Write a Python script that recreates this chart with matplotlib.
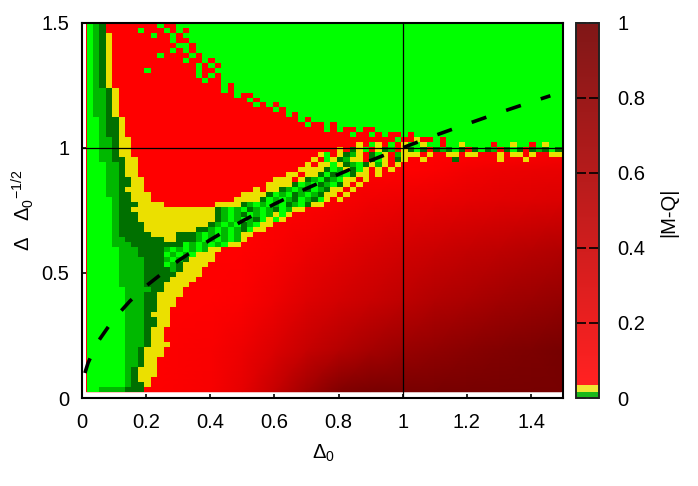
import re
import numpy as np
import matplotlib
matplotlib.use("Agg")
import matplotlib.pyplot as plt
from matplotlib.colors import LinearSegmentedColormap, Normalize
from matplotlib.cm import ScalarMappable

plt.rcParams['font.family'] = ['Liberation Sans', 'DejaVu Sans']
plt.rcParams['mathtext.fontset'] = 'custom'
plt.rcParams['mathtext.rm'] = 'Liberation Sans'
plt.rcParams['mathtext.it'] = 'Liberation Sans'
plt.rcParams['mathtext.bf'] = 'Liberation Sans'

# |M-Q|. Cell map: each row runs from the top (1.49) to the bottom,
# written as a letter with an optional repeat count. g, m, d, y are the green and yellow
# cells; r is red; the red cells show the smooth red field below through them.
cell_values = {'g': 0.003, 'm': 0.008, 'd': 0.013, 'y': 0.025, 'r': 0.05}
rows = [
    "gmdr8grrg", "gmdr5gr3grgr", "gmdyr6grrgrg", "gmdyr9grr", "gmdyr10ggr",
    "gmdyr9grgr", "gmdyr7gr3rgr", "gmdyr11grrgr", "gmdyr11rrgrgr", "gmdyr5gr7grr",
    "gmdyr13grgr", "gmdyr14grr", "gmdyr15rrgr", "gmmdyr15rgr", "gmmdyr17rgrr",
    "gmmdyr20gr", "gmmdyr21grgr", "gmmdyr23rgr", "gmmdyr24rrgr", "ggmddyr27gr",
    "ggmddyr28grrgr", "ggmddyr30rgrgrrgrr", "ggmddyr35grrgrgrrgr", "ggmmdyyr40rgrryrrgrg",
    "ggmmdyyr35yrgyrgryggyggrggyggggrggyggrgyg",
    "ggmmdyyr32yrdygrydmrydgdrdmdgdrdgdmrdgdrdmdgd",
    "ggmmdyyr29ygrydmyrdgyrmyyyryrryyryyrrryryyryrryy",
    "ggmmddyyr27yrgydmyyrdgyrdyr2yr4dr6yr3yr5",
    "gggmmdyyr26yryygydmgdymyryrr24",
    "gggmmdyyr24ryyyydgmydgyryryrr25",
    "gggmmdyyr23yyryydgdmgdyyryr28",
    "gggmmddyyr20yyyrydmgdmgyyryr30",
    "gggmmddyyr19yyyydgmgdmgdyryr31",
    "gggmmdyyyr17yryydmgmdgmdyyryr32",
    "gggmmddyyyr14yyyydgmgdmgmdyyryr33",
    "ggggmddyyyr12ryyyydgmgmdgmdgyryr34",
    "ggggmdddyyyyr8yyyydmgmgmgdmgdyyrr36",
    "ggggmddy12ydmgmgdmgmdgmyyr40",
    "ggggmdddy12dmgmdgmgmygyr42",
    "ggggmdddy12dmgmgmdgygyr43",
    "ggggmddddy10dmgmgdmgyyr45",
    "ggggmddddy8ddmgmgmdgyyr46",
    "ggggmdddddy4dddmgmgmgmyyr48",
    "ggggmmddddddyydddmgmgmgmyr49",
    "ggggmmmddddddddgmgmgmgyyr50",
    "gggggmmmddddmgmgmgmyyr53",
    "gggggmmmddddgmgmgyyyr54",
    "gggggmmmmdddmgmdyyyyr54",
    "gggggmmmmdddgmdyyyyr55",
    "gggggmmmmddddmdyyyr56",
    "gggggmmmmdddddyyyyr56",
    "gggggmmmmddddyyyyr57",
    "gggggmmmmdddyyyyr58",
    "ggggggmmmmddyyyr59",
    "ggggggmmmddyyyyr59",
    "ggggggmmmddyyyr60",
    "ggggggmmmddyyyr60",
    "ggggggmmmddyyr61",
    "ggggggmmmdyyyr61",
    "ggggggmmmddyyr61",
    "ggggggmmmddyyr61",
    "ggggggmmmdyyr62",
    "ggggggmmmdyyr62",
    "ggggggmmmdyyr62",
    "ggggggmmmdyyyr61",
    "ggggggmmdyyyr62",
    "ggggggmmdyyyr62",
    "ggggggmmdyyr63",
    "ggggggmmdyyr63",
    "ggggggmdyyyr63",
    "ggggggmdyyyr63",
    "ggggggmdyyr64",
    "ggggggmddyr64",
    "ggmmmmdddr65",
]
n_cols = 74
x_start, x_stop = 0.015, 1.495
y_start, y_stop = 0.025, 1.5

# Smooth red field: |M-Q| at these nodes, read from the shade of the red area.
field_x = [0.015, 0.2, 0.4, 0.5, 0.6, 0.7, 0.8, 0.9, 1.0, 1.1, 1.2, 1.3, 1.4, 1.495]
field_y = [0.025, 0.19, 0.39, 0.59, 0.79, 0.91, 0.95, 1.0, 1.5]
field_v = [
    [.05, .05, .10, .22, .44, .70, .92, .98, .98, .98, .99, .99, .99, .99],
    [.05, .05, .09, .175, .30, .44, .56, .67, .75, .81, .865, .91, .945, .985],
    [.05, .05, .05, .08, .17, .28, .355, .42, .50, .58, .63, .69, .74, .785],
    [.05, .05, .05, .05, .09, .165, .23, .30, .36, .41, .46, .50, .55, .59],
    [.05, .05, .05, .05, .05, .05, .09, .15, .18, .20, .23, .26, .28, .30],
    [.05, .05, .05, .05, .05, .05, .05, .05, .05, .08, .13, .17, .19, .20],
    [.05, .05, .05, .05, .05, .05, .05, .05, .05, .06, .08, .10, .12, .14],
    [.05, .05, .05, .05, .05, .05, .05, .05, .05, .05, .05, .05, .05, .05],
    [.05, .05, .05, .05, .05, .05, .05, .05, .05, .05, .05, .05, .05, .05],
]

line_x = [0.01, 0.02, 0.05, 0.1, 0.15, 0.2, 0.3, 0.4, 0.5, 0.6, 0.7, 0.8, 0.9, 1.0, 1.1, 1.2, 1.3, 1.4, 1.46]
line_y = [0.1, 0.141, 0.224, 0.316, 0.387, 0.447, 0.548, 0.632, 0.707, 0.775, 0.837, 0.894, 0.949, 1.0, 1.049, 1.095, 1.14, 1.183, 1.208]

x_ticks = [0, 0.2, 0.4, 0.6, 0.8, 1.0, 1.2, 1.4]
x_labels = ['0', '0.2', '0.4', '0.6', '0.8', '1', '1.2', '1.4']
y_ticks = [0, 0.5, 1.0, 1.5]
y_labels = ['0', '0.5', '1', '1.5']
c_ticks = [0, 0.2, 0.4, 0.6, 0.8, 1.0]
c_labels = ['0', '0.2', '0.4', '0.6', '0.8', '1']


def expand(row, index):
    text = ''.join(ch * int(n or 1) for ch, n in re.findall(r'([a-z])(\d*)', row))
    pad = 'r' if index >= 28 else 'g'
    return [cell_values[ch] for ch in text.ljust(n_cols, pad)[:n_cols]]


Z = np.array([expand(r, i) for i, r in enumerate(rows)])[::-1]
Z_cells = np.ma.masked_greater_equal(Z, 0.05)
xe = np.linspace(x_start, x_stop, n_cols + 1)
ye = np.linspace(y_start, y_stop, len(rows) + 1)


def make_cmap(g1, g2, g3, yl, r0, r1):
    stops = [(0, g1), (0.005, g1), (0.0051, g2), (0.01, g2), (0.0101, g3), (0.016, g3),
             (0.0161, yl), (0.035, yl), (0.0351, r0), (0.05, r0), (1, r1)]
    return LinearSegmentedColormap.from_list('mq', stops, N=2048)


image_cmap = make_cmap((0, 1, 0), (0, .72, 0), (0, .44, 0), (.92, .88, 0), (1, 0, 0), (.46, 0, 0))
bar_cmap = make_cmap((.1, .72, .1), (.1, .72, .1), (.1, .72, .1), (.95, .9, .2), (1, .13, .13), (.5, .09, .09))
norm = Normalize(0, 1)

W, H = 698, 486
fig = plt.figure(figsize=(W / 100, H / 100), dpi=100)
L, R, T, B = 81.7, 563.2, 22.7, 398
ax = fig.add_axes([L / W, 1 - B / H, (R - L) / W, (B - T) / H])
ax.pcolormesh(field_x, field_y, np.array(field_v), cmap=image_cmap, norm=norm, shading='gouraud', zorder=1)
ax.pcolormesh(xe, ye, Z_cells, cmap=image_cmap, norm=norm, antialiased=False, linewidth=0, zorder=2)
ax.axhline(1, color='black', lw=0.9, zorder=3)
ax.axvline(1, color='black', lw=0.9, zorder=3)
ax.plot(line_x, line_y, color='black', lw=2.6, dashes=(4.3, 5.8), dash_capstyle='butt', zorder=4)
ax.set_xlim(0, 1.5)
ax.set_ylim(0, 1.5)
ax.set_xticks(x_ticks, x_labels)
ax.set_yticks(y_ticks, y_labels)
ax.tick_params(axis='x', direction='in', length=3, width=1.2, pad=11, labelsize=14.5)
ax.tick_params(axis='y', direction='in', length=3, width=1.2, pad=9, labelsize=14.5)
for s in ax.spines.values():
    s.set_linewidth(1.5)

cax = fig.add_axes([575.5 / W, 1 - B / H, 23.5 / W, (B - T) / H])
cb = fig.colorbar(ScalarMappable(norm=norm, cmap=bar_cmap), cax=cax, ticks=c_ticks)
cb.set_ticklabels(c_labels)
cax.tick_params(axis='y', direction='in', left=True, right=True, length=7.3, width=1.2, pad=13.5, labelsize=14.5)
cb.outline.set_linewidth(1.4)
cb.outline.set_edgecolor('#222222')

fig.text(323 / W, 1 - 453 / H, r'$\mathrm{\Delta_0}$', ha='center', va='center', fontsize=14.5)
fig.text(23 / W, 1 - 210 / H, r'$\mathrm{\Delta\ \ \ \Delta_0{}^{-1/2}}$', rotation=90, ha='center', va='center', fontsize=14.5)
fig.text(669 / W, 1 - 212 / H, '|M-Q|', rotation=90, ha='center', va='center', fontsize=14.5)

fig.savefig('out.png', dpi=100)
